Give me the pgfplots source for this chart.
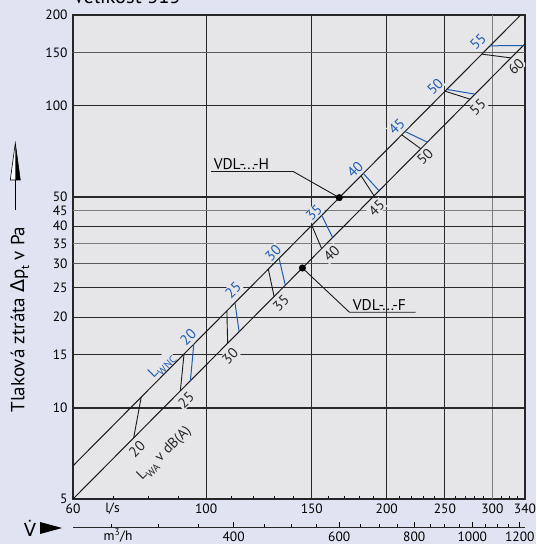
\documentclass[border=0pt]{standalone}
\usepackage{pgfplots}
\pgfplotsset{compat=1.18}
\usepackage{fontspec}
\setmainfont{PT Sans}
\newfontfamily\grk{DejaVu Sans}
\definecolor{outerbg}{RGB}{224,227,242}
\definecolor{plotbg}{RGB}{230,230,232}
\definecolor{lblue}{RGB}{30,90,175}
\definecolor{gridd}{RGB}{40,40,40}
\definecolor{gridm}{RGB}{90,90,90}
\definecolor{gridl}{RGB}{125,125,125}
\newcommand\lbl{\fontsize{14.5}{16}\selectfont}
\newcommand\tkl{\fontsize{13.5}{15}\selectfont}
\begin{document}
\begin{tikzpicture}
\fill[outerbg] (0pt,0pt) rectangle (536pt,544pt);
\useasboundingbox (0pt,0pt) rectangle (536pt,544pt);
\node[anchor=base west, font=\fontsize{20.5}{22}\selectfont, inner sep=0pt] at (73pt,540.5pt) {Velikost 315};
% y label and arrow
\node[rotate=90, font=\fontsize{19}{22}\selectfont] at (20pt,224.5pt) {Tlaková ztráta {\grk Δ}p\raisebox{-0.25em}{\fontsize{12}{13}\selectfont t} v Pa};
\draw[line width=0.8pt] (15.3pt,334pt) -- (15.3pt,364pt);
\filldraw[fill=white, draw=black, line width=0.6pt] (10.3pt,364pt) -- (15.3pt,401pt) -- (20.3pt,364pt) -- cycle;
\fill[black] (15.3pt,364pt) -- (15.3pt,401pt) -- (20.3pt,364pt) -- cycle;
% V arrow
\node[font=\fontsize{18}{20}\selectfont, inner sep=0pt, anchor=base] at (30pt,7.5pt) {\grk V^^^^0307};
\fill[black] (40pt,22pt) -- (62pt,16pt) -- (40pt,10pt) -- cycle;
\node[font=\tkl] at (112.5pt,35pt) {l/s};
\node[font=\tkl] at (118pt,8.5pt) {m\textsuperscript{3}/h};

\begin{axis}[
  at={(73pt,45pt)}, anchor=south west, scale only axis,
  width=452pt, height=484pt,
  xmode=log, ymode=log, xmin=60, xmax=340, ymin=5, ymax=200,
  axis background/.style={fill=plotbg},
  axis line style={line width=1.4pt, black!85},
  xtick={60,100,150,200,250,300,340},
  xticklabels={60,100,150,200,250,300,340},
  minor xtick={70,80,90,110,120,130,140,160,170,180,190,210,220,230,240,260,270,280,290,310,320,330},
  ytick={5,10,15,20,25,30,35,40,45,50,100,150,200},
  yticklabels={5,10,15,20,25,30,35,40,45,50,100,150,200},
  tick pos=left, tick align=inside,
  major tick length=0pt, minor tick length=3pt,
  minor tick style={black, line width=0.8pt},
  xticklabel style={font=\tkl, yshift=-1.5pt},
  yticklabel style={font=\tkl, xshift=-2pt},
]
% grid
\draw[gridd, line width=1.1pt] (axis cs:100,5) -- (axis cs:100,200);
\draw[gridd, line width=1.1pt] (axis cs:150,5) -- (axis cs:150,200);
\draw[gridd, line width=1.1pt] (axis cs:200,5) -- (axis cs:200,200);
\draw[gridd, line width=1.1pt] (axis cs:250,5) -- (axis cs:250,200);
\draw[gridl, line width=1.1pt] (axis cs:300,5) -- (axis cs:300,200);
\draw[gridd, line width=1.1pt] (axis cs:60,10) -- (axis cs:340,10);
\draw[gridd, line width=1.1pt] (axis cs:60,15) -- (axis cs:340,15);
\draw[gridd, line width=1.1pt] (axis cs:60,20) -- (axis cs:340,20);
\draw[gridd, line width=1.1pt] (axis cs:60,25) -- (axis cs:340,25);
\draw[gridm, line width=1.1pt] (axis cs:60,30) -- (axis cs:340,30);
\draw[gridl, line width=1.1pt] (axis cs:60,35) -- (axis cs:340,35);
\draw[gridd, line width=1.1pt] (axis cs:60,40) -- (axis cs:340,40);
\draw[gridl, line width=1.1pt] (axis cs:60,45) -- (axis cs:340,45);
\draw[gridd, line width=1.4pt] (axis cs:60,50) -- (axis cs:340,50);
\draw[gridd, line width=1.1pt] (axis cs:60,100) -- (axis cs:340,100);
\draw[gridm, line width=1.1pt] (axis cs:60,150) -- (axis cs:340,150);

% blue labels (L_WNC)
\begin{scope}[every node/.style={rotate=45, text=lblue, fill=plotbg, inner sep=1pt, font=\lbl}]
\node at (axis cs:84.4,13.79) {L\raisebox{-0.3em}{\fontsize{10.5}{11}\selectfont WNC}};
\node at (axis cs:93.3,17.2) {20};
\node at (axis cs:110.9,24.6) {25};
\node at (axis cs:129.3,32.6) {30};
\node at (axis cs:151.3,44.3) {35};
\node at (axis cs:177.1,61.5) {40};
\node at (axis cs:207.8,85.5) {45};
\node at (axis cs:240.7,116.0) {50};
\node at (axis cs:283.9,163.4) {55};
\end{scope}
% black labels (L_WA)
\begin{scope}[every node/.style={rotate=45, text=black!85, fill=plotbg, inner sep=1pt, font=\lbl}]
\node at (axis cs:76.7,7.32) {20};
\node[fill=none] at (axis cs:85.3,7.05) {L\raisebox{-0.3em}{\fontsize{10.5}{11}\selectfont WA} v dB(A)};
\node at (axis cs:92.6,10.64) {25};
\node at (axis cs:109.6,14.88) {30};
\node at (axis cs:133.3,22.28) {35};
\node at (axis cs:161.8,32.4) {40};
\node at (axis cs:192.4,45.97) {45};
\node at (axis cs:231.6,68.0) {50};
\node at (axis cs:283.6,99.1) {55};
\node at (axis cs:328.5,135.0) {60};
\end{scope}

% main characteristic lines
\addplot[black!90, line width=1pt] coordinates {(60,6.44) (334.4,200)};
\addplot[black!90, line width=1pt] coordinates {(60,5) (340,160.6)};

% L_WA segments (black)
\addplot[black!90, line width=0.9pt] coordinates {(77.97,10.88) (75.74,7.967)};
\addplot[black!90, line width=0.9pt] coordinates {(91.87,15.10) (90.58,11.40)};
\addplot[black!90, line width=0.9pt] coordinates {(108.3,20.98) (108.6,16.38)};
\addplot[black!90, line width=0.9pt] coordinates {(126.95,28.83) (129.8,23.40)};
\addplot[black!90, line width=0.9pt] coordinates {(150.0,40.25) (155.8,33.71)};
\addplot[black!90, line width=0.9pt] coordinates {(181.2,58.74) (190.5,50.40)};
\addplot[black!90, line width=0.9pt] coordinates {(211.8,80.25) (227.9,72.14)};
\addplot[black!90, line width=0.9pt] coordinates {(250.1,111.9) (275.3,105.3)};
\addplot[black!90, line width=0.9pt] coordinates {(288.0,148.4) (322.2,144.2)};
% L_WNC segments (blue)
\addplot[lblue, line width=1pt] coordinates {(95.37,16.27) (94.14,12.31)};
\addplot[lblue, line width=1pt] coordinates {(111.7,22.32) (113.5,17.89)};
\addplot[lblue, line width=1pt] coordinates {(132.3,31.31) (135.5,25.50)};
\addplot[lblue, line width=1pt] coordinates {(155.8,43.43) (162.5,36.68)};
\addplot[lblue, line width=1pt] coordinates {(182.8,59.78) (194.2,52.38)};
\addplot[lblue, line width=1pt] coordinates {(214.5,82.31) (233.7,75.86)};
\addplot[lblue, line width=1pt] coordinates {(251.8,113.4) (280.6,109.4)};
\addplot[lblue, line width=1pt] coordinates {(297.3,158.1) (337.8,158.5)};

% annotations
\addplot[black!90, line width=0.9pt] coordinates {(101.9,60.65) (139.7,60.65) (166.7,49.7)};
\addplot[black!90, line width=0.9pt] coordinates {(144.7,29.08) (173.3,20.76) (223.5,20.76)};
\addplot[only marks, mark=*, mark size=3.3pt, black] coordinates {(166.7,49.7) (144.7,29.08)};
\node[anchor=south west, inner sep=1.5pt, font=\fontsize{15.5}{17}\selectfont] at (axis cs:102.3,60.65) {VDL-...-H};
\node[anchor=south west, inner sep=1.5pt, font=\fontsize{15.5}{17}\selectfont] at (axis cs:174.5,20.76) {VDL-...-F};
\end{axis}

\begin{axis}[
  at={(73pt,16.7pt)}, anchor=south west, scale only axis,
  width=452pt, height=10pt,
  xmode=log, xmin=216, xmax=1224, ymin=0, ymax=1,
  axis x line*=bottom, axis y line=none,
  axis line style={-, line width=0.8pt, black!85},
  xtick={400,600,800,1000,1200},
  xticklabels={400,600,800,1000,1200},
  minor xtick={250,300,350,450,500,550,650,700,750,850,900,950,1050,1100,1150},
  tick align=inside, major tick length=5pt, minor tick length=3pt,
  tick style={black, line width=0.8pt},
  xticklabel style={font=\tkl, yshift=-1pt},
]
\addplot[draw=none] coordinates {(216,0) (1224,1)};
\end{axis}
\end{tikzpicture}
\end{document}
